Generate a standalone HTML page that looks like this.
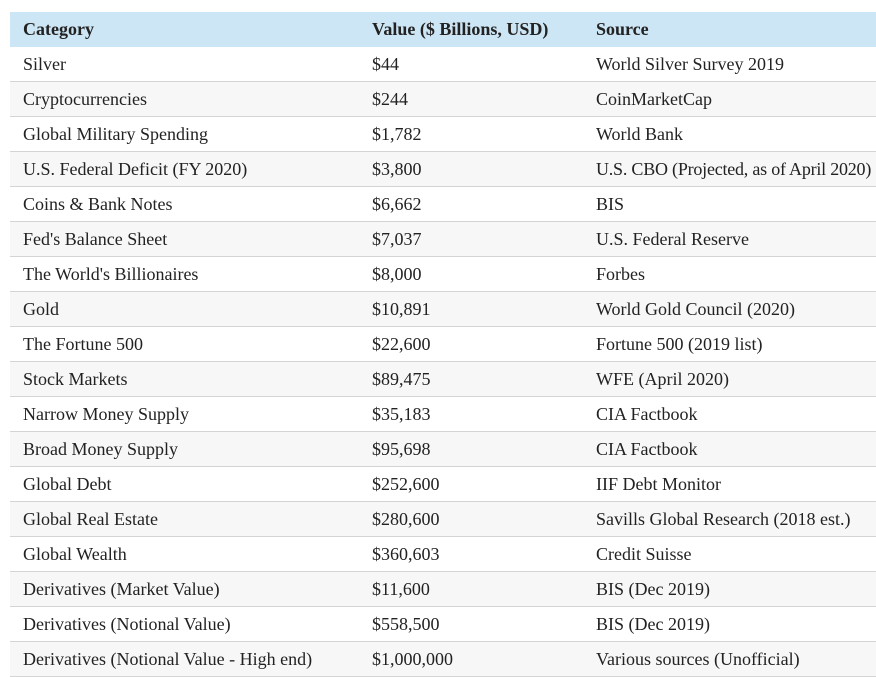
<!DOCTYPE html>
<html><head><style>
body{margin:0;background:#fff;width:876px;height:674px;overflow:hidden;font-family:"Liberation Serif","DejaVu Serif",serif;font-size:18px;color:#222;}
table{position:absolute;left:10px;top:12px;width:866px;border-collapse:collapse;table-layout:fixed;}
td,th{height:34px;padding:0 0 0 13px;text-align:left;border-bottom:1px solid #d4d4d4;white-space:nowrap;overflow:visible;}
th{background:#cde6f5;font-weight:bold;border-bottom:none;height:35px;}
tr:nth-child(odd) td{background:#f7f7f7;}
col.a{width:349px}
col.b{width:224px}
.n{letter-spacing:-0.22px}
</style></head><body>
<table>
<colgroup><col class="a"><col class="b"><col></colgroup>
<tr><th>Category</th><th>Value ($ Billions, USD)</th><th>Source</th></tr>
<tr><td>Silver</td><td>$44</td><td>World Silver Survey 2019</td></tr>
<tr><td>Cryptocurrencies</td><td>$244</td><td>CoinMarketCap</td></tr>
<tr><td>Global Military Spending</td><td>$1,782</td><td>World Bank</td></tr>
<tr><td>U.S. Federal Deficit (FY 2020)</td><td>$3,800</td><td class="n">U.S. CBO (Projected, as of April 2020)</td></tr>
<tr><td>Coins &amp; Bank Notes</td><td>$6,662</td><td>BIS</td></tr>
<tr><td>Fed's Balance Sheet</td><td>$7,037</td><td>U.S. Federal Reserve</td></tr>
<tr><td>The World's Billionaires</td><td>$8,000</td><td>Forbes</td></tr>
<tr><td>Gold</td><td>$10,891</td><td>World Gold Council (2020)</td></tr>
<tr><td>The Fortune 500</td><td>$22,600</td><td>Fortune 500 (2019 list)</td></tr>
<tr><td>Stock Markets</td><td>$89,475</td><td>WFE (April 2020)</td></tr>
<tr><td>Narrow Money Supply</td><td>$35,183</td><td>CIA Factbook</td></tr>
<tr><td>Broad Money Supply</td><td>$95,698</td><td>CIA Factbook</td></tr>
<tr><td>Global Debt</td><td>$252,600</td><td>IIF Debt Monitor</td></tr>
<tr><td>Global Real Estate</td><td>$280,600</td><td>Savills Global Research (2018 est.)</td></tr>
<tr><td>Global Wealth</td><td>$360,603</td><td>Credit Suisse</td></tr>
<tr><td>Derivatives (Market Value)</td><td>$11,600</td><td>BIS (Dec 2019)</td></tr>
<tr><td>Derivatives (Notional Value)</td><td>$558,500</td><td>BIS (Dec 2019)</td></tr>
<tr><td>Derivatives (Notional Value - High end)</td><td>$1,000,000</td><td>Various sources (Unofficial)</td></tr>
</table>
</body></html>
